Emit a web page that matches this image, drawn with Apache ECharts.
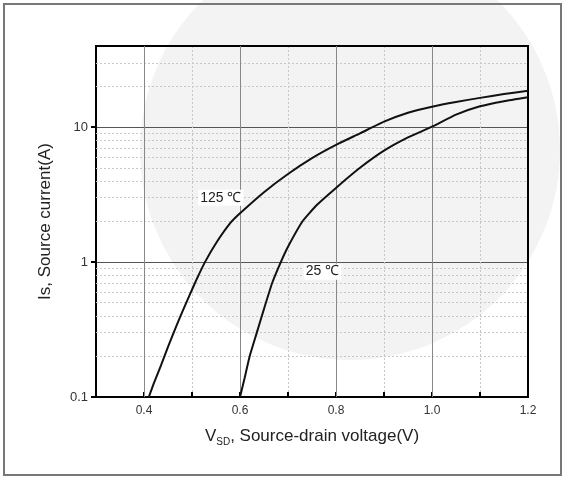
<!DOCTYPE html>
<html>
<head>
<meta charset="utf-8">
<script src="https://cdn.jsdelivr.net/npm/echarts@6/dist/echarts.min.js"></script>
<style>
  html, body { margin: 0; padding: 0; background: #fff; }
  #chart { width: 565px; height: 479px; }
</style>
</head>
<body>
<div id="chart"></div>
<script>
// 125 C curve
var v125 = [0.41, 0.42, 0.435, 0.45, 0.465, 0.48, 0.495, 0.51, 0.527, 0.55, 0.58, 0.6, 0.65, 0.7, 0.75, 0.8, 0.85, 0.9, 0.95, 1.0, 1.05, 1.1, 1.15, 1.2];
var i125 = [0.1, 0.125, 0.17, 0.235, 0.32, 0.43, 0.57, 0.75, 1.0, 1.38, 1.95, 2.3, 3.3, 4.5, 5.9, 7.4, 9.0, 11.0, 12.8, 14.2, 15.4, 16.5, 17.6, 18.6];
// 25 C curve
var v25 = [0.6, 0.61, 0.62, 0.635, 0.65, 0.667, 0.685, 0.7, 0.73, 0.76, 0.8, 0.85, 0.9, 0.95, 1.0, 1.05, 1.1, 1.15, 1.2];
var i25 = [0.1, 0.14, 0.2, 0.3, 0.45, 0.7, 1.0, 1.3, 2.0, 2.65, 3.55, 5.0, 6.7, 8.4, 10.1, 12.4, 14.3, 15.6, 16.7];

var xMajor = [0.4, 0.6, 0.8, 1.0];
var yMinor = [0.2, 0.3, 0.4, 0.5, 0.6, 0.7, 0.8, 0.9, 2, 3, 4, 5, 6, 7, 8, 9, 20, 30];

function pairs(xs, ys) {
  var out = [];
  for (var i = 0; i < xs.length; i++) out.push([xs[i], ys[i]]);
  return out;
}

var myChart = echarts.init(document.getElementById("chart"));

var dotted = { color: "#c8c8c8", type: [2, 2], width: 1 };

var option = {
  backgroundColor: "#fff",
  animation: false,
  textStyle: { fontFamily: "Liberation Sans, Arial, sans-serif" },
  graphic: [
    { type: "circle", z: -10, silent: true, shape: { cx: 350, cy: 150, r: 210 }, style: { fill: "#f3f3f3" } },
    { type: "rect", z: 100, silent: true, shape: { x: 4, y: 4, width: 557, height: 471 }, style: { fill: "none", stroke: "#777", lineWidth: 2 } }
  ],
  grid: {
    left: 96, right: 37, top: 46, bottom: 82,
    show: true, borderColor: "#000", borderWidth: 2, backgroundColor: "transparent", z: 5
  },
  xAxis: {
    type: "value",
    min: 0.3, max: 1.2, interval: 0.1,
    name: "{a|V}{sub|SD}{a|, Source-drain voltage(V)}",
    nameLocation: "middle",
    nameGap: 28,
    nameTextStyle: {
      rich: {
        a: { fontSize: 17, color: "#222", fontFamily: "Liberation Sans" },
        sub: { fontSize: 10, color: "#222", fontFamily: "Liberation Sans", verticalAlign: "bottom", padding: [12, 0, 0, 0] }
      }
    },
    axisLine: { lineStyle: { color: "#000", width: 2 } },
    axisTick: { inside: true, length: 5, lineStyle: { color: "#000", width: 2 } },
    axisLabel: {
      color: "#333", fontSize: 12, margin: 8,
      formatter: function (v) {
        return Math.round(v * 10) % 2 === 0 ? v.toFixed(1) : "";
      }
    },
    splitLine: { show: true, lineStyle: dotted }
  },
  yAxis: {
    type: "log",
    logBase: 10,
    min: 0.1, max: 40,
    name: "Is, Source current(A)",
    nameLocation: "middle",
    nameGap: 42,
    nameTextStyle: { fontSize: 17, color: "#222" },
    axisLine: { lineStyle: { color: "#000", width: 2 } },
    axisTick: { length: 5, lineStyle: { color: "#000", width: 2 } },
    axisLabel: { color: "#333", fontSize: 13, margin: 8, showMaxLabel: false,
      formatter: function (v) { return v >= 1 ? String(Math.round(v)) : String(v); } },
    splitLine: { show: true, lineStyle: { color: "#555", width: 1 } }
  },
  series: [
    {
      name: "grid",
      type: "line",
      data: [],
      markLine: {
        silent: true, symbol: "none", label: { show: false }, animation: false,
        lineStyle: dotted,
        data: yMinor.map(function (y) { return { yAxis: y }; })
      }
    },
    {
      name: "gridx",
      type: "line",
      data: [],
      markLine: {
        silent: true, symbol: "none", label: { show: false }, animation: false,
        lineStyle: { color: "#888", type: "solid", width: 1 },
        data: xMajor.map(function (x) { return { xAxis: x }; })
      }
    },
    {
      name: "125",
      type: "line",
      smooth: 0.15,
      showSymbol: false,
      z: 10,
      lineStyle: { color: "#111", width: 2 },
      data: pairs(v125, i125),
      markPoint: {
        symbol: "circle", symbolSize: 0,
        label: { show: true, formatter: "125 ℃", color: "#222", fontSize: 14, backgroundColor: "#fff", padding: [1, 2] },
        data: [{ coord: [0.56, 3.0] }]
      }
    },
    {
      name: "25",
      type: "line",
      smooth: 0.15,
      showSymbol: false,
      z: 10,
      lineStyle: { color: "#111", width: 2 },
      data: pairs(v25, i25),
      markPoint: {
        symbol: "circle", symbolSize: 0,
        label: { show: true, formatter: "25 ℃", color: "#222", fontSize: 14, backgroundColor: "#fff", padding: [1, 2] },
        data: [{ coord: [0.772, 0.85] }]
      }
    }
  ]
};

myChart.setOption(option);
</script>
</body>
</html>
